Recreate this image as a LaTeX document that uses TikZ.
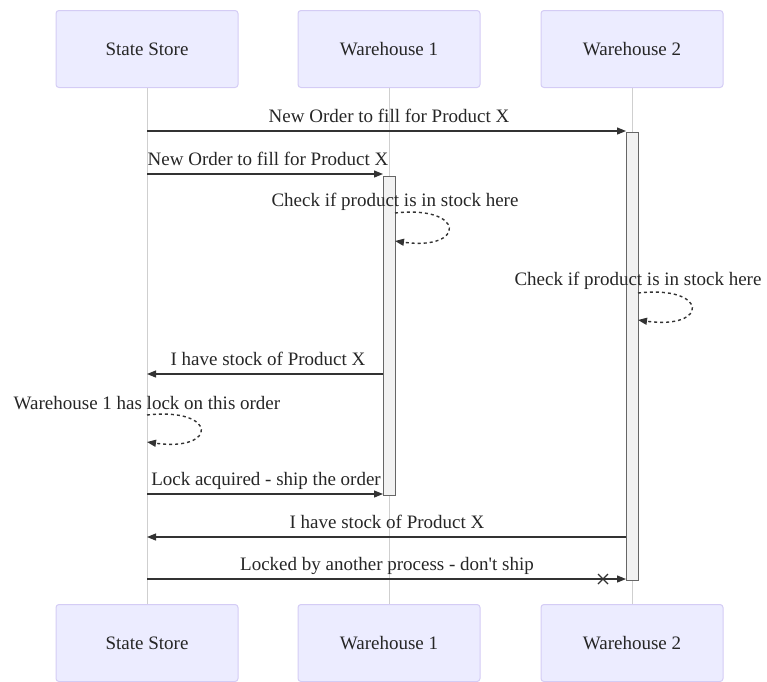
\documentclass[tikz,border=0pt]{standalone}
\usepackage{fontspec}
\setmainfont{Liberation Serif}[Ligatures=TeXOff]
\usetikzlibrary{arrows.meta}
\definecolor{actfill}{HTML}{ECECFF}
\definecolor{actline}{HTML}{D4CCF5}
\definecolor{lifeline}{HTML}{CFCFCF}
\definecolor{msg}{HTML}{333333}
\tikzset{
  actor/.style={draw=actline, fill=actfill, line width=1pt, rounded corners=3pt, minimum width=182pt, minimum height=77pt, font=\rmfamily\fontsize{19}{22}\selectfont, inner sep=0pt, text=black!85},
  actbar/.style={draw=black!60, fill=black!5, line width=1pt},
  msgline/.style={draw=msg, line width=1.2pt, -{Triangle[length=9pt,width=7pt]}},
  selfmsg/.style={draw=msg, line width=1.4pt, dash pattern=on 3pt off 3pt, -{Triangle[length=9pt,width=7pt]}},
  lbl/.style={font=\rmfamily\fontsize{19}{22}\selectfont, inner sep=0pt, text=black!85},
  life/.style={draw=lifeline, line width=1pt}
}
\begin{document}
\begin{tikzpicture}[x=1pt,y=-1pt]
\useasboundingbox (0,0) rectangle (767,681);
% actors
\node[actor] (s1) at (147,49) {State Store};
\node[actor] (w1) at (389,49) {Warehouse 1};
\node[actor] (w2) at (632,49) {Warehouse 2};
\node[actor] (s2) at (147,643) {State Store};
\node[actor] (w1b) at (389,643) {Warehouse 1};
\node[actor] (w2b) at (632,643) {Warehouse 2};
% lifelines
\draw[life] (s1.south) -- (s2.north);
\draw[life] (w1.south) -- (w1b.north);
\draw[life] (w2.south) -- (w2b.north);
% activation bars
\draw[actbar] (626,132) rectangle (638,580);
\draw[actbar] (383,176) rectangle (395,495);
% coordinates
\coordinate (a1) at (147,131); \coordinate (b1) at (626,131);
\coordinate (a2) at (147,174); \coordinate (b2) at (383,174);
\coordinate (a5) at (383,374); \coordinate (b5) at (147,374);
\coordinate (a7) at (147,494); \coordinate (b7) at (383,494);
\coordinate (a8) at (626,537); \coordinate (b8) at (147,537);
\coordinate (a9) at (147,579); \coordinate (b9) at (626,579);
\coordinate (x9) at (603,579);
\coordinate (l1s) at (395,213); \coordinate (l1e) at (395,241);
\coordinate (l2s) at (638,293); \coordinate (l2e) at (638,320);
\coordinate (l3s) at (147,415); \coordinate (l3e) at (147,442);
% messages
\draw[msgline] (a1) -- (b1);
\node[lbl] (t1) at (389,116) {New Order to fill for Product X};
\draw[msgline] (a2) -- (b2);
\node[lbl] (t2) at (268,159) {New Order to fill for Product X};
\node[lbl] (t3) at (395,202) {Check if product is in stock here};
\draw[selfmsg] (l1s) .. controls (466,205) and (466,251) .. (l1e);
\node[lbl] (t4) at (638,281) {Check if product is in stock here};
\draw[selfmsg] (l2s) .. controls (709,285) and (709,330) .. (l2e);
\draw[msgline] (a5) -- (b5);
\node[lbl] (t5) at (268,359) {I have stock of Product X};
\node[lbl] (t6) at (147,403) {Warehouse 1 has lock on this order};
\draw[selfmsg] (l3s) .. controls (218,407) and (218,452) .. (l3e);
\draw[msgline] (a7) -- (b7);
\node[lbl] (t7) at (266,481) {Lock acquired - ship the order};
\draw[msgline] (a8) -- (b8);
\node[lbl] (t8) at (387,522) {I have stock of Product X};
\draw[msgline] (a9) -- (b9);
\draw[msg, line width=1.3pt] ([shift={(-5,-5)}]x9) -- ([shift={(5,5)}]x9) ([shift={(-5,5)}]x9) -- ([shift={(5,-5)}]x9);
\node[lbl] (t9) at (387,566) {Locked by another process - don't ship};
\end{tikzpicture}
\end{document}
